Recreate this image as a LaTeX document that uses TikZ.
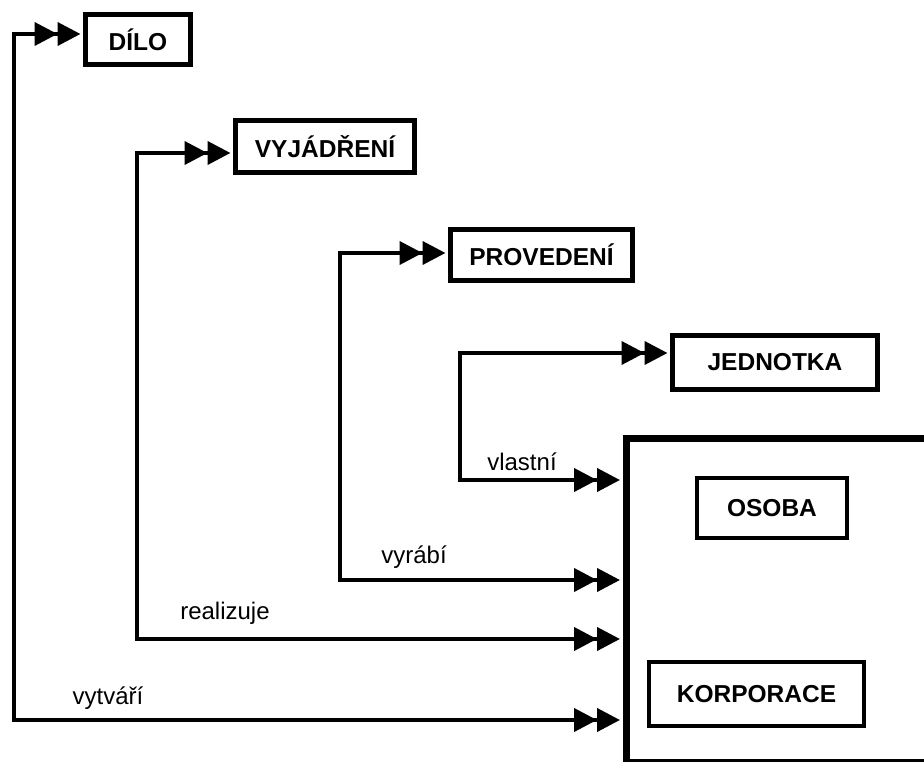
\documentclass[tikz,border=0pt]{standalone}
\usepackage{fontspec}
\setmainfont{Liberation Sans}
\usetikzlibrary{arrows.meta}
\begin{document}
\begin{tikzpicture}[x=1pt,y=-1pt,
  box/.style={draw,line width=5pt,font=\bfseries\fontsize{24.5}{28}\selectfont,inner sep=0pt},
  inbox/.style={draw,line width=4pt,font=\bfseries\fontsize{24.5}{28}\selectfont,inner sep=0pt},
  bigbox/.style={draw,line width=7pt,inner sep=0pt,anchor=north west},
  conn2/.style={line width=4pt,{Triangle[length=23pt,width=23pt]Triangle[length=23pt,width=23pt]}-{Triangle[length=23pt,width=23pt]Triangle[length=23pt,width=23pt]},shorten >=3pt,shorten <=2.5pt},
  lbl/.style={font=\fontsize{24}{28}\selectfont,inner sep=0pt}]
\clip (0,0) rectangle (924,762);
% boxes
\node[box,minimum width=105pt,minimum height=50pt] (dilo) at (138,39.5) {DÍLO};
\node[box,minimum width=179pt,minimum height=52pt] (vyj) at (325,146.5) {VYJÁDŘENÍ};
\node[box,minimum width=182pt,minimum height=51pt] (prov) at (541.5,255) {PROVEDENÍ};
\node[box,minimum width=205pt,minimum height=54pt] (jed) at (775,362.5) {JEDNOTKA};
\node[bigbox,minimum width=400pt,minimum height=324pt] (big) at (623,435) {};
\node[inbox,minimum width=150pt,minimum height=60pt] (osoba) at (772,508) {OSOBA};
\node[inbox,minimum width=215pt,minimum height=64pt] (korp) at (756.5,694) {KORPORACE};
% corner coordinates
\coordinate (t1) at (14,34);   \coordinate (b1) at (14,720);
\coordinate (t2) at (137,153); \coordinate (b2) at (137,639);
\coordinate (t3) at (340,253); \coordinate (b3) at (340,580);
\coordinate (t4) at (460,353); \coordinate (b4) at (460,480);
% connectors
\draw[conn2] (t1 -| dilo.west) -- (t1) -- (b1) -- (b1 -| big.west);
\draw[conn2] (t2 -| vyj.west) -- (t2) -- (b2) -- (b2 -| big.west);
\draw[conn2] (t3 -| prov.west) -- (t3) -- (b3) -- (b3 -| big.west);
\draw[conn2] (t4 -| jed.west) -- (t4) -- (b4) -- (b4 -| big.west);
% labels
\node[lbl] (l1) at (108,698) {vytváří};
\node[lbl] (l2) at (225,613) {realizuje};
\node[lbl] (l3) at (414,557) {vyrábí};
\node[lbl] (l4) at (522,462) {vlastní};
\end{tikzpicture}
\end{document}
